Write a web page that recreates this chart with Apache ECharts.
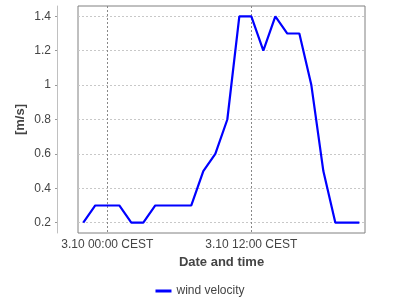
<!DOCTYPE html>
<html><head><meta charset="utf-8">
<script src="https://cdn.jsdelivr.net/npm/echarts@6/dist/echarts.min.js"></script>
<style>html,body{margin:0;padding:0;background:#fff}#c{width:400px;height:300px}</style>
</head><body><div id="c"></div>
<script>
// hours relative to 3.10 00:00 CEST
const hours = [-2,-1,0,1,2,3,4,5,6,7,8,9,10,11,12,13,14,15,16,17,18,19,20,21];
const windVelocity = [0.2,0.3,0.3,0.3,0.2,0.2,0.3,0.3,0.3,0.3,0.5,0.6,0.8,1.4,1.4,1.2,1.4,1.3,1.3,1.0,0.5,0.2,0.2,0.2];
const xTickHours = [0, 12];
const xTickLabels = ['3.10 00:00 CEST', '3.10 12:00 CEST'];
const yTicks = [0.2,0.4,0.6,0.8,1.0,1.2,1.4];

const font = 'Liberation Sans, Arial, sans-serif';
const chart = echarts.init(document.getElementById('c'), null, {renderer:'canvas'});
chart.setOption({
  animation: false,
  grid: {left: 78, right: 35, top: 6, bottom: 67, show: true, borderColor: '#808080', borderWidth: 1,
    backgroundColor: 'transparent', containLabel: false, outerBoundsMode: 'none'},
  xAxis: {
    type: 'value', min: -2.44, max: 21.47,
    name: 'Date and time', nameLocation: 'middle', nameGap: 23,
    nameTextStyle: {fontFamily: font, fontSize: 13, fontWeight: 'bold', color: '#444'},
    axisLine: {show: false, onZero: false},
    axisTick: {show: false, customValues: xTickHours},
    axisLabel: {customValues: xTickHours, margin: 6, fontFamily: font, fontSize: 12, color: '#444',
      formatter: v => xTickLabels[xTickHours.indexOf(v)] || ''},
    splitLine: {show: true, customValues: xTickHours, lineStyle: {color: '#888', type: [2,2], width: 1}}
  },
  yAxis: {
    type: 'value', min: 0.14, max: 1.46, offset: 21,
    name: '[m/s]', nameLocation: 'middle', nameGap: 30, nameMoveOverlap: false,
    nameTextStyle: {fontFamily: font, fontSize: 13, fontWeight: 'bold', color: '#444'},
    axisLine: {show: true, onZero: false, lineStyle: {color: '#c0c0c0'}},
    axisTick: {show: true, length: 2, customValues: yTicks, lineStyle: {color: '#999'}},
    axisLabel: {customValues: yTicks, margin: 6, fontFamily: font, fontSize: 12, color: '#444',
      formatter: v => String(Number(v.toFixed(1)))},
    splitLine: {show: true, customValues: yTicks, lineStyle: {color: '#c8c8c8', type: [2,2], width: 1}}
  },
  legend: {
    show: true, left: 'center', top: 280, itemWidth: 16, itemHeight: 3, itemGap: 10,
    icon: 'rect',
    textStyle: {fontFamily: font, fontSize: 12, color: '#444'},
    data: ['wind velocity']
  },
  series: [{
    name: 'wind velocity', type: 'line', showSymbol: false, symbol: 'none',
    data: hours.map((h, i) => [h, windVelocity[i]]),
    lineStyle: {color: '#0000ff', width: 2.2}, itemStyle: {color: '#0000ff'}
  }]
});
</script></body></html>
